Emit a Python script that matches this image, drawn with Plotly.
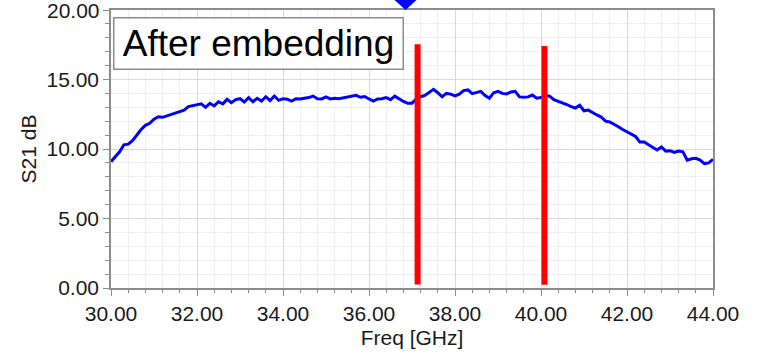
import plotly.graph_objects as go

# --- data -------------------------------------------------------------
freq_ghz = [round(30 + 0.1 * i, 1) for i in range(141)]
s21_db = [
    9.09, 9.45, 9.80, 10.30, 10.35, 10.60, 11.00, 11.40, 11.70, 11.85,
    12.15, 12.32, 12.28, 12.38, 12.50, 12.55, 12.65, 12.80, 13.05, 13.12,
    13.17, 13.25, 13.00, 13.29, 13.10, 13.40, 13.25, 13.57, 13.33, 13.55,
    13.62, 13.38, 13.69, 13.40, 13.65, 13.45, 13.76, 13.48, 13.81, 13.50,
    13.62, 13.58, 13.45, 13.62, 13.60, 13.65, 13.70, 13.81, 13.62, 13.60,
    13.75, 13.60, 13.65, 13.62, 13.68, 13.75, 13.82, 13.86, 13.72, 13.78,
    13.60, 13.45, 13.60, 13.62, 13.70, 13.55, 13.80, 13.60, 13.42, 13.30,
    13.30, 13.60, 13.76, 13.85, 14.10, 14.29, 14.05, 13.76, 14.00, 13.95,
    13.82, 13.95, 14.20, 14.25, 13.98, 14.05, 14.15, 13.85, 13.65, 14.05,
    14.15, 14.00, 13.96, 14.10, 14.15, 13.75, 13.72, 13.75, 13.88, 13.65,
    13.70, 13.85, 13.80, 13.55, 13.45, 13.35, 13.20, 13.05, 12.95, 13.15,
    12.75, 12.80, 12.60, 12.45, 12.30, 12.00, 11.95, 11.80, 11.60, 11.40,
    11.22, 11.10, 10.90, 10.50, 10.50, 10.30, 10.10, 9.93, 10.15, 9.85,
    9.88, 9.75, 9.85, 9.80, 9.20, 9.30, 9.33, 9.20, 8.95, 9.00,
    9.26,
]

red_line_x = [37.13, 40.08]
red_line_top = [17.53, 17.41]
red_line_bottom = [0.25, 0.24]

marker_x = [36.85]

y_tick_vals = [0, 5, 10, 15, 20]
y_tick_text = ["0.00", "5.00", "10.00", "15.00", "20.00"]

box_label = "After embedding"
x_title = "Freq [GHz]"
y_title = "S21 dB"

# --- figure -----------------------------------------------------------
FONT = "Liberation Sans, Arial, sans-serif"
TICK_FONT = dict(family=FONT, size=21, color="#1a1a1a")
fig = go.Figure()

fig.add_trace(go.Scatter(
    x=freq_ghz, y=s21_db, mode="lines",
    line=dict(color="#0000ff", width=3), hoverinfo="skip", showlegend=False,
))

for xv, top, bot in zip(red_line_x, red_line_top, red_line_bottom):
    fig.add_trace(go.Scatter(
        x=[xv, xv], y=[bot, top], mode="lines",
        line=dict(color="#ff0000", width=6), showlegend=False,
    ))

# blue diamond marker sitting on top of the plot frame
for mx in marker_x:
    fig.add_shape(
        type="path", xref="x", yref="paper",
        xsizemode="pixel", ysizemode="pixel", xanchor=mx, yanchor=1,
        path="M -11 10 L 0 20 L 11 10 L 0 0 Z",
        fillcolor="#0000ff", line=dict(width=0), layer="above",
    )

axis_common = dict(
    showline=True, linecolor="#8c8c8c", linewidth=1.5, mirror=True,
    ticks="outside", tickcolor="#8c8c8c", ticklen=6, tickwidth=1,
    gridcolor="#d9d9d9", gridwidth=1, zeroline=False,
    tickfont=TICK_FONT, automargin=False,
)

fig.update_xaxes(
    range=[30, 44], dtick=2, tick0=30, tickformat=".2f",
    minor=dict(dtick=0.4, ticks="outside", ticklen=3, tickcolor="#8c8c8c",
               showgrid=True, gridcolor="#efefef"),
    title=dict(text=x_title, font=dict(family=FONT, size=21, color="#1a1a1a"),
               standoff=6),
    **axis_common,
)
# the top label would overflow the page, so it is drawn as an annotation
fig.update_yaxes(
    range=[0, 20], tickmode="array", tickvals=y_tick_vals,
    ticktext=y_tick_text[:-1] + [""],
    minor=dict(dtick=1, ticks="outside", ticklen=4, tickcolor="#8c8c8c",
               showgrid=True, gridcolor="#efefef"),
    title=dict(text=y_title, font=dict(family=FONT, size=21, color="#1a1a1a"),
               standoff=4),
    **axis_common,
)
fig.add_annotation(
    xref="paper", yref="paper", x=0, y=1, xanchor="right", yanchor="middle",
    xshift=-9, text=y_tick_text[-1], showarrow=False, font=TICK_FONT,
)

fig.add_annotation(
    xref="paper", yref="paper", x=0.003, y=0.975,
    xanchor="left", yanchor="top",
    text=box_label, showarrow=False,
    font=dict(family=FONT, size=37, color="#000000"),
    bgcolor="#ffffff", bordercolor="#8c8c8c", borderwidth=1.5,
    width=286, height=48, align="center",
)

fig.update_layout(
    width=757, height=358,
    margin=dict(l=111, r=44, t=10, b=70),
    plot_bgcolor="#ffffff", paper_bgcolor="#ffffff",
    font=dict(family=FONT),
)

fig.write_html("out.html")
